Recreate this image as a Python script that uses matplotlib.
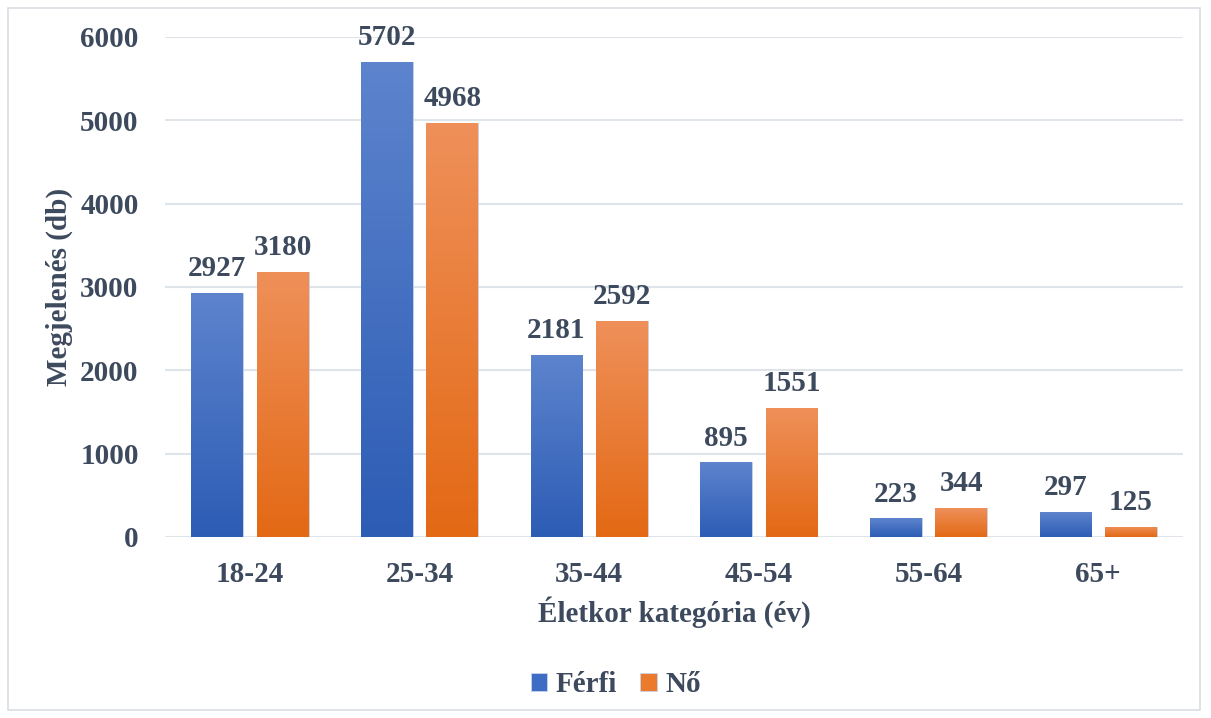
import numpy as np
import matplotlib.pyplot as plt
from matplotlib.patches import Rectangle
from matplotlib.colors import LinearSegmentedColormap

categories = ["18-24", "25-34", "35-44", "45-54", "55-64", "65+"]
ferfi = [2927, 5702, 2181, 895, 223, 297]
no = [3180, 4968, 2592, 1551, 344, 125]
series_names = ["Férfi", "Nő"]

plt.rcParams['font.family'] = ['Liberation Serif', 'DejaVu Serif']
plt.rcParams['font.weight'] = 'bold'
txt = '#3d4a5e'

fig = plt.figure(figsize=(12.11, 7.18), dpi=100)
fig.patches.append(Rectangle((8 / 1211, 8 / 718), 1192 / 1211, 702 / 718,
                             transform=fig.transFigure, fill=False,
                             edgecolor='#d9dde3', lw=1.2))
ax = fig.add_axes([0.1363, 0.2521, 0.8406, 0.6964])

x = np.arange(len(categories))
w = 0.305
off = 0.193

blue = LinearSegmentedColormap.from_list('b', ['#2d5cb5', '#5d84cd'])
orange = LinearSegmentedColormap.from_list('o', ['#e36914', '#ef905a'])
grad = np.linspace(0, 1, 256).reshape(-1, 1)

def gbars(xs, vals, cmap, base):
    bars = ax.bar(xs, vals, w, color=base, edgecolor='#c9d4ea', lw=0.6, zorder=2)
    for b in bars:
        x0, y0 = b.get_x(), b.get_y()
        im = ax.imshow(grad, cmap=cmap, aspect='auto', origin='lower',
                       extent=[x0, x0 + b.get_width(), y0, y0 + b.get_height()],
                       zorder=2.5)
        im.set_clip_path(b)
    return bars

b1 = gbars(x - off, ferfi, blue, '#3d6cc4')
b2 = gbars(x + off, no, orange, '#ec7a2c')

for xs, vals in [(x - off, ferfi), (x + off, no)]:
    for xi, v in zip(xs, vals):
        ax.text(xi, v + 130, str(v), ha='center', va='bottom', fontsize=21,
                fontweight='bold', color=txt)

ax.set_xlim(-0.5, len(categories) - 0.5)
ax.set_ylim(0, 6000)
ax.set_yticks(range(0, 6001, 1000))
ax.set_xticks(x)
ax.set_xticklabels(categories)
ax.tick_params(length=0, labelsize=21, colors=txt)
ax.tick_params(axis='x', pad=17)
ax.tick_params(axis='y', pad=19)
for lab in ax.get_xticklabels() + ax.get_yticklabels():
    lab.set_fontweight('bold')
ax.grid(axis='y', color='#dfe3ea', lw=1.5, zorder=0)
ax.set_axisbelow(True)
for s in ax.spines.values():
    s.set_visible(False)

ax.set_xlabel("Életkor kategória (év)", fontsize=21, fontweight='bold', color=txt, labelpad=6)
ax.set_ylabel("Megjelenés (db)", fontsize=21, fontweight='bold', color=txt, labelpad=5)

leg = ax.legend([b1[0], b2[0]], series_names, loc='center', bbox_to_anchor=(0.443, -0.296),
                ncol=2, frameon=False, fontsize=21, handlelength=0.55, handleheight=0.55,
                handletextpad=0.3, columnspacing=0.8)
for t in leg.get_texts():
    t.set_color(txt)
    t.set_fontweight('bold')

fig.savefig('out.png', dpi=100)
